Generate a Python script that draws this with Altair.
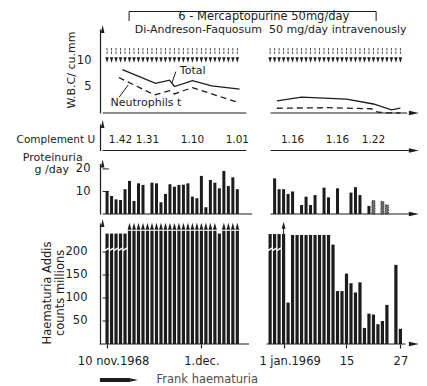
import altair as alt
import pandas as pd

FONT = "DejaVu Sans"
INK = "#1c1c1c"
DIM = "#4d4d4d"

# ------------------------------------------------------------------ data
# Broken time axis: left block = days after 10 Nov 1968 (0 = 10 Nov),
# right block = day of January 1969 (0 = 31 Dec), shifted by RIGHT_OFFSET.
RIGHT_OFFSET = 38.3

drug_left_days = list(range(0, 30))
drug_right_days = list(range(-2, 28))

wbc_total_left_days = [3.4, 10.8, 13.9, 15.0, 19.0, 23.3, 29.5]
wbc_total_left = [8.2, 5.6, 6.2, 5.0, 6.1, 5.1, 4.5]
wbc_neut_left_days = [2.6, 10.6, 13.9, 15.0, 19.0, 29.5]
wbc_neut_left = [6.7, 3.4, 4.2, 3.6, 4.8, 1.9]
wbc_total_right_days = [-0.5, 5, 15, 21, 25, 27]
wbc_total_right = [2.3, 3.0, 2.6, 1.7, 0.6, 0.9]
wbc_neut_right_days = [-0.5, 11, 20.5, 22, 24, 27]
wbc_neut_right = [0.9, 1.0, 0.8, 0.15, 0.05, 0.0]

complement_left_days = [3, 9, 19, 29]
complement_left = [1.42, 1.31, 1.10, 1.01]
complement_right_days = [3, 13, 21]
complement_right = [1.16, 1.16, 1.22]

prot_left_days = [0, 1, 2, 3, 4, 5, 6, 7, 8, 10, 11, 12, 13, 14, 15, 16, 17, 18, 19,
                  20, 21, 22, 23, 24, 25, 26, 27, 28, 29]
prot_left = [10.2, 8.0, 6.5, 6.2, 11.0, 14.7, 5.8, 13.6, 12.9, 13.9, 13.6, 5.2, 8.9,
             13.2, 12.1, 12.9, 13.0, 13.6, 7.7, 7.0, 16.9, 3.0, 15.1, 13.9, 11.4,
             19.1, 12.4, 16.3, 11.0]
prot_right_days = [-1, 0, 1, 2, 3, 5, 6, 7, 8, 10, 11, 13, 16, 17, 18, 20, 21, 23, 24]
prot_right = [15.8, 11.0, 11.0, 8.9, 10.0, 4.0, 7.7, 4.0, 8.4, 11.7, 7.4, 11.4, 9.5,
              11.9, 8.4, 3.6, 5.9, 5.5, 4.0]
prot_right_doubtful = [False] * 16 + [True] * 3

haem_left_days = list(range(0, 30))
haem_left = [240] * 5 + [246] * 20 + [240] + [246] * 4
haem_left_broken = [0, 1, 2, 3, 4]
haem_left_offscale = list(range(5, 25)) + [26, 27, 28, 29]
haem_right_days = [-2, -1, 0, 1, 2, 3, 4, 5, 6, 7, 8, 9, 10, 11, 12, 13, 14, 15, 16,
                   17, 18, 19, 20, 21, 22, 23, 24, 26, 27]
haem_right = [239, 239, 239, 239, 90, 237, 237, 237, 237, 237, 237, 237, 237, 237,
              216, 115, 115, 153, 132, 112, 134, 35, 66, 64, 43, 50, 85, 172, 33]
haem_right_broken = [-2, -1, 0]
haem_right_offscale = [1]

x_tick_days = [0, 21, 1, 15, 27]
x_tick_blocks = ["L", "L", "R", "R", "R"]
x_tick_labels = ["10 nov.1968", "1.dec.", "1 jan.1969", "15", "27"]


def pos(days, block):
    return [d + (RIGHT_OFFSET if block == "R" else 0) for d in days]


# ------------------------------------------------------------------ scales
XS = alt.Scale(domain=[-22.72, 70.11], nice=False, zero=False)
Y_WBC = alt.Scale(domain=[0, 15.85], range=[113, 29], nice=False, zero=False)
Y_CMP = alt.Scale(domain=[0, 1], range=[150.5, 124], nice=False, zero=False)
Y_PRO = alt.Scale(domain=[0, 22.4], range=[214, 163.5], nice=False, zero=False)
Y_HAE = alt.Scale(domain=[0, 263], range=[344, 223], nice=False, zero=False)

tick_pos = [d + (RIGHT_OFFSET if b == "R" else 0) for d, b in zip(x_tick_days, x_tick_blocks)]
expr = "''"
for p, l in reversed(list(zip(tick_pos, x_tick_labels))):
    expr = f"abs(datum.value - {p}) < 0.01 ? '{l}' : ({expr})"

X_AX = alt.Axis(values=tick_pos, labelExpr=expr, domain=False, grid=False, ticks=True,
                tickSize=4, tickWidth=1.2, tickColor=INK, labelFont=FONT,
                labelFontSize=11.5, labelColor=INK, labelPadding=7, offset=-42,
                title=None,
                labelOffset={"condition": {"test": "datum.value < 1 || abs(datum.value - 39.3) < 0.01",
                                           "value": 6},
                             "value": 0})


def xenc(field="x"):
    return alt.X(f"{field}:Q", scale=XS, axis=X_AX)


def yenc(scale, field="y", axis=None):
    return alt.Y(f"{field}:Q", scale=scale, axis=axis)


def yaxis(values, pad, labels=True):
    kw = dict(orient="left", offset=-100, ticks=False, domainColor=INK, domainWidth=1.2,
              grid=False, title=None, labelFont=FONT, labelFontSize=11.5,
              labelColor=INK, labelPadding=pad)
    if labels:
        kw["values"] = values
    else:
        kw["labels"] = False
    return alt.Axis(**kw)


AXIS_X = -0.98      # position of the y axes (day units)
ARROW_X = 68.3
UP = "M-0.45,1L0.45,1L0,-1Z"
RIGHT = "M-1,-0.45L-1,0.45L1,0Z"

layers = []


def segs(rows, yscale, width=1.2, color=INK, dash=None):
    kw = dict(color=color, strokeWidth=width)
    if dash:
        kw["strokeDash"] = dash
    df = pd.DataFrame(rows, columns=["x", "x2", "y", "y2"])
    return alt.Chart(df).mark_rule(**kw).encode(
        x=xenc(), x2="x2:Q", y=yenc(yscale), y2="y2:Q")


def points(df, yscale, shape, size, filled=True, color=INK, width=1.0):
    kw = dict(shape=shape, size=size, filled=filled, opacity=1, color=color)
    if not filled:
        kw["strokeWidth"] = width
    return alt.Chart(df).mark_point(**kw).encode(x=xenc(), y=yenc(yscale))


def texts(rows, yscale, size=11.5, align="left", angle=0, color=INK, baseline="middle"):
    kw = dict(font=FONT, fontSize=size, align=align, baseline=baseline, color=color)
    if angle:
        kw["angle"] = angle
    df = pd.DataFrame(rows, columns=["x", "y", "t"])
    return alt.Chart(df).mark_text(**kw).encode(x=xenc(), y=yenc(yscale), text="t:N")


# ------------------------------------------------------------------ WBC panel
wbc_base = pd.DataFrame({"x": [AXIS_X, 36.4], "x2": [31.0, 66.8], "y": [0, 0]})
layers.append(alt.Chart(wbc_base).mark_rule(color=INK, strokeWidth=1.2).encode(
    x=xenc(), x2="x2:Q", y=yenc(Y_WBC, axis=yaxis([5, 10], 9))))
wbc_rows = []
for days, vals, blk, ser in [
    (wbc_total_left_days, wbc_total_left, "L", "total"),
    (wbc_total_right_days, wbc_total_right, "R", "total"),
    (wbc_neut_left_days, wbc_neut_left, "L", "neut"),
        (wbc_neut_right_days, wbc_neut_right, "R", "neut")]:
    for x, v in zip(pos(days, blk), vals):
        wbc_rows.append({"x": x, "y": v, "blk": blk, "ser": ser})
wbc_df = pd.DataFrame(wbc_rows)
layers.append(alt.Chart(wbc_df[wbc_df.ser == "total"]).mark_line(
    color=INK, strokeWidth=1.3).encode(x=xenc(), y=yenc(Y_WBC), detail="blk:N"))
layers.append(alt.Chart(wbc_df[wbc_df.ser == "neut"]).mark_line(
    color=INK, strokeWidth=1.3, strokeDash=[6, 4]).encode(
        x=xenc(), y=yenc(Y_WBC), detail="blk:N"))
drug_x = pos(drug_left_days, "L") + pos(drug_right_days, "R")
layers.append(points(pd.DataFrame({"x": drug_x, "y": 11.7}), Y_WBC,
                     "M0,-1L0,-0.15M0,0.15L0,1", 36, filled=False, color=DIM))
layers.append(points(pd.DataFrame({"x": drug_x, "y": 10.0}), Y_WBC,
                     "M-0.65,-1L0.65,-1L0,1Z", 28))
layers.append(segs([[15.3, 14.4, 7.8, 5.6], [2.7, 4.7, 3.0, 5.3]], Y_WBC, width=1))
layers.append(texts([[16.2, 7.9, "Total"], [0.76, 1.8, "Neutrophils t"]], Y_WBC, size=11))
layers.append(texts([[-7.7, 8.1, "W.B.C/ cu.mm"]], Y_WBC, size=11, align="center",
                    angle=270))
layers.append(points(pd.DataFrame({"x": [AXIS_X], "y": [15.85]}), Y_WBC, UP, 64))
layers.append(points(pd.DataFrame({"x": [ARROW_X], "y": [0]}), Y_WBC, RIGHT, 100))
# drug header with bracket
layers.append(segs([[4.9, 59.9, 19.15, 19.15], [4.9, 4.9, 19.15, 17.36],
                    [59.9, 59.9, 19.15, 17.36]], Y_WBC, width=1))
layers.append(texts([[34.9, 17.55, "6 - Mercaptopurine 50mg/day"]], Y_WBC, size=11.5,
                    align="center", baseline="alphabetic"))
layers.append(texts([[36.4, 15.15, "Di-Andreson-Faquosum\u00a0 50 mg/day intravenously"]],
                    Y_WBC, size=11, align="center", baseline="alphabetic"))

# ------------------------------------------------------------------ complement
cmp_base = pd.DataFrame({"x": [AXIS_X, 36.4], "x2": [31.0, 67.3], "y": [0, 0]})
layers.append(alt.Chart(cmp_base).mark_rule(color=INK, strokeWidth=1.2).encode(
    x=xenc(), x2="x2:Q", y=yenc(Y_CMP, axis=yaxis(None, 0, labels=False))))
cmp_rows = [[x, 0.38, f"{v:.2f}"] for x, v in
            zip(pos(complement_left_days, "L") + pos(complement_right_days, "R"),
                complement_left + complement_right)]
layers.append(texts(cmp_rows, Y_CMP, size=10.5, align="center"))
layers.append(texts([[-11.4, 0.38, "Complement U"]], Y_CMP, size=10.5, align="center"))
layers.append(points(pd.DataFrame({"x": [AXIS_X], "y": [1]}), Y_CMP, UP, 64))
layers.append(points(pd.DataFrame({"x": [ARROW_X], "y": [0]}), Y_CMP, RIGHT, 100))

# ------------------------------------------------------------------ proteinuria
pro_base = pd.DataFrame({"x": [AXIS_X, 36.4], "x2": [32.3, 67.3], "y": [0, 0]})
layers.append(alt.Chart(pro_base).mark_rule(color=INK, strokeWidth=1.2).encode(
    x=xenc(), x2="x2:Q", y=yenc(Y_PRO, axis=yaxis([10, 20], 10))))
pro_df = pd.DataFrame({
    "x": pos(prot_left_days, "L") + pos(prot_right_days, "R"),
    "y": prot_left + prot_right,
    "y0": 0,
    "doubt": [False] * len(prot_left) + prot_right_doubtful})
layers.append(alt.Chart(pro_df[~pro_df.doubt]).mark_bar(size=3, color=INK).encode(
    x=xenc(), y=yenc(Y_PRO), y2="y0:Q"))
layers.append(alt.Chart(pro_df[pro_df.doubt]).mark_bar(
    size=3, fill="#6e6e6e", stroke=INK, strokeWidth=0.8, strokeDash=[1.5, 1]).encode(
    x=xenc(), y=yenc(Y_PRO), y2="y0:Q"))
layers.append(segs([[AXIS_X, 0.4, v, v] for v in [10, 20]], Y_PRO, width=1))
layers.append(texts([[-12.1, 24.9, "Proteinuria"], [-12.3, 19.4, "g /day"]], Y_PRO,
                    size=11, align="center"))
layers.append(points(pd.DataFrame({"x": [AXIS_X], "y": [22.4]}), Y_PRO, UP, 64))
layers.append(points(pd.DataFrame({"x": [ARROW_X], "y": [0]}), Y_PRO, RIGHT, 100))

# ------------------------------------------------------------------ haematuria
hae_base = pd.DataFrame({"x": [-1.6, 35.5], "x2": [31.6, 66.4], "y": [0, 0]})
layers.append(alt.Chart(hae_base).mark_rule(color=INK, strokeWidth=1.2).encode(
    x=xenc(), x2="x2:Q", y=yenc(Y_HAE, axis=yaxis([50, 100, 150, 200], 13))))
hae_df = pd.DataFrame({
    "x": pos(haem_left_days, "L") + pos(haem_right_days, "R"),
    "y": haem_left + haem_right, "y0": 0})
layers.append(alt.Chart(hae_df).mark_bar(size=3.2, color=INK).encode(
    x=xenc(), y=yenc(Y_HAE), y2="y0:Q"))
brk = pd.DataFrame({"x": pos(haem_left_broken, "L") + pos(haem_right_broken, "R"),
                    "y": 206})
layers.append(points(brk, Y_HAE, "M-1,0.6L1,-0.6", 22, filled=False, color="white",
                     width=1.6))
off_l = pd.DataFrame({"x": pos(haem_left_offscale, "L"), "y": 256})
layers.append(points(off_l, Y_HAE, "M-0.55,1L0.55,1L0,-1Z", 49))
off_r = pos(haem_right_offscale, "R")
layers.append(segs([[x, x, 239, 254] for x in off_r], Y_HAE, width=1))
layers.append(points(pd.DataFrame({"x": off_r, "y": 258}), Y_HAE,
                     "M-0.55,1L0.55,1L0,-1Z", 49))
layers.append(segs([[AXIS_X, 0.4, v, v] for v in [50, 100, 150, 200]], Y_HAE, width=1))
layers.append(texts([[-13.15, 111, "Haematuria Addis"], [-10.3, 111, "counts millions"]],
                    Y_HAE, size=11.5, align="center", angle=270))
layers.append(points(pd.DataFrame({"x": [AXIS_X], "y": [263]}), Y_HAE, UP, 64))
layers.append(points(pd.DataFrame({"x": [ARROW_X], "y": [0]}), Y_HAE, RIGHT, 100))
# legend
layers.append(segs([[-1.6, 5.1, -78.3, -78.3]], Y_HAE, width=4))
layers.append(points(pd.DataFrame({"x": [6.0], "y": [-78.3]}), Y_HAE, RIGHT, 60))
layers.append(texts([[11.0, -78.3, "Frank haematuria"]], Y_HAE, size=11.5, color=DIM))

chart = alt.layer(*layers).resolve_scale(y="independent").properties(
    width=427, height=386, padding=0,
    autosize=alt.AutoSizeParams(type="none"), background="white"
).configure_view(stroke=None)

chart.save("out.html", embed_options={"renderer": "svg", "actions": False})
